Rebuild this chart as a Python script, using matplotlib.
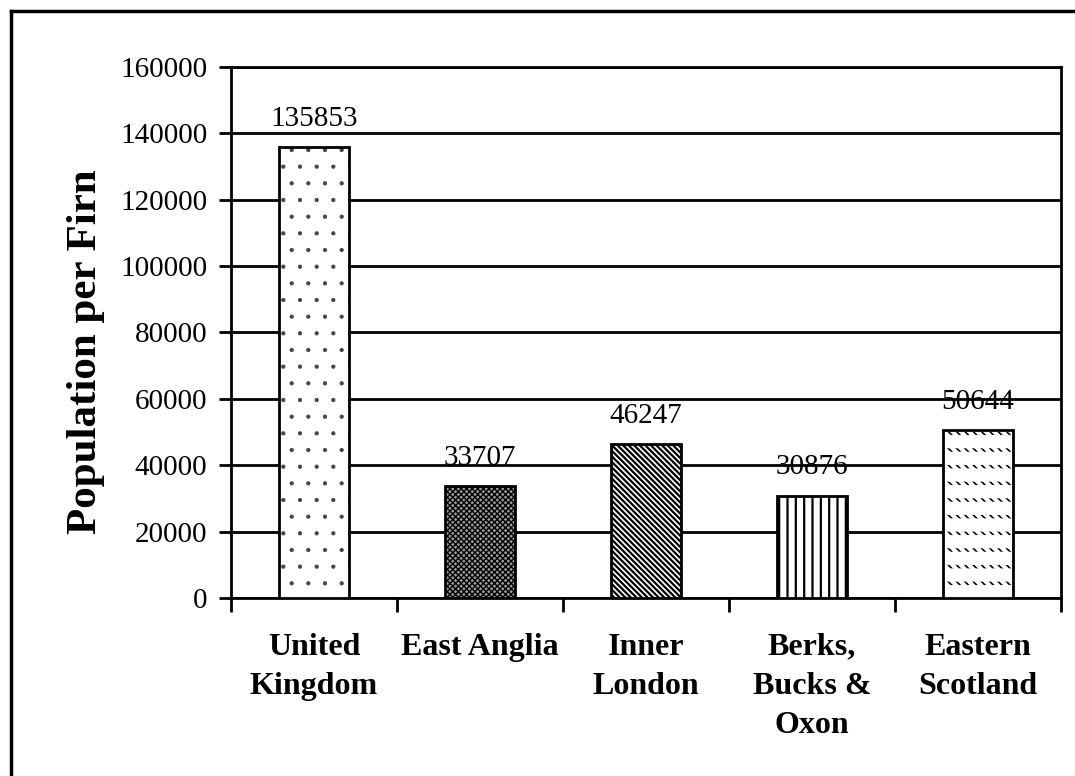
import numpy as np
import matplotlib.pyplot as plt
from matplotlib.lines import Line2D

plt.rcParams['font.family'] = ['Liberation Serif', 'DejaVu Serif']

### Данные
regions = ["United\nKingdom", "East Anglia", "Inner\nLondon", "Berks,\nBucks &\nOxon", "Eastern\nScotland"]
population = [135853, 33707, 46247, 30876, 50644]

### Стиль штриховки: (hatch, цвет заливки, цвет штриха, толщина)
styles = [('.', 'white', '#444444', 0.6),
          ('xxxxxx', '#9a9a9a', 'black', 1.0),
          ('\\\\\\\\\\\\', 'white', 'black', 1.6),
          ('||', 'white', 'black', 1.6),
          ('\\\\\\\\', 'white', 'black', 1.2)]

fig = plt.figure(figsize=(10.75, 7.76), dpi=100)
ax = fig.add_axes([0.2149, 0.2294, 0.7721, 0.6843])

x = np.arange(len(regions))
w = 0.42
for xi, v, (h, fc, hc, lw) in zip(x, population, styles):
    with plt.rc_context({'hatch.linewidth': lw}):
        ax.bar(xi, v, width=w, color=fc, edgecolor=hc, linewidth=0, hatch=h, zorder=3)

# рваные штрихи для последнего столбца
with plt.rc_context({'hatch.linewidth': 9.5}):
    ax.bar(x[-1:], population[-1:], width=w, color='none', edgecolor='white',
           linewidth=0, hatch='-', zorder=4)

# контуры столбцов
ax.bar(x, population, width=w, color='none', edgecolor='black', linewidth=2, zorder=5)

for xi, v in zip(x, population):
    ax.annotate(str(v), (xi, v), xytext=(0, 11), textcoords='offset points',
                ha='center', va='bottom', fontsize=21)

ax.set_xlim(-0.5, len(regions) - 0.5)
ax.set_ylim(0, 160000)
ax.set_yticks(np.arange(0, 160001, 20000))
ax.tick_params(axis='y', labelsize=21, length=9, width=2, direction='out', pad=8)
ax.set_xticks(x)
ax.set_xticklabels(regions, fontsize=23, fontweight='bold', linespacing=1.45)
ax.tick_params(axis='x', length=0, pad=25)
ax.set_xticks(np.arange(-0.5, len(regions)), minor=True)
ax.tick_params(axis='x', which='minor', length=10, width=2, direction='out')

ax.yaxis.grid(True, color='black', linewidth=2, zorder=0)
ax.set_axisbelow(True)
for s in ax.spines.values():
    s.set_linewidth(2)

ax.set_ylabel("Population per Firn", fontsize=31, fontweight='bold')
ax.yaxis.set_label_coords(-0.152, 0.464)

# внешняя рамка
fig.add_artist(Line2D([11 / 1075, 11 / 1075], [0, 1 - 11 / 776], color='black', linewidth=2.5))
fig.add_artist(Line2D([11 / 1075, 1], [1 - 11 / 776, 1 - 11 / 776], color='black', linewidth=2.5))

plt.savefig("out.png", dpi=100)
